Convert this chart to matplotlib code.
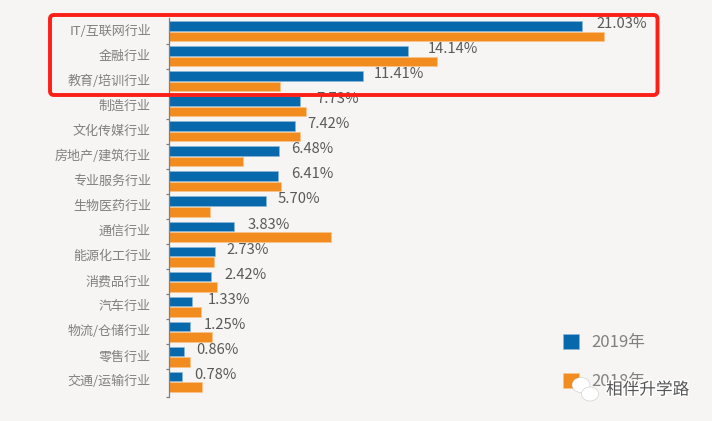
import matplotlib
matplotlib.use('Agg')
import matplotlib.pyplot as plt
import matplotlib.patheffects as pe
from matplotlib.patches import FancyBboxPatch, Ellipse
from matplotlib.transforms import Affine2D
import numpy as np

plt.rcParams['font.family'] = ['Noto Sans CJK SC', 'DejaVu Sans']

categories = ['IT/互联网行业', '金融行业', '教育/培训行业', '制造行业', '文化传媒行业',
              '房地产/建筑行业', '专业服务行业', '生物医药行业', '通信行业', '能源化工行业',
              '消费品行业', '汽车行业', '物流/仓储行业', '零售行业', '交通/运输行业']
labels_2019 = ['21.03%', '14.14%', '11.41%', '7.73%', '7.42%', '6.48%', '6.41%', '5.70%',
               '3.83%', '2.73%', '2.42%', '1.33%', '1.25%', '0.86%', '0.78%']
# bar lengths as drawn in the picture (they are not quite in scale with the labels)
bars_2019 = [21.03, 12.2, 9.87, 6.68, 6.43, 5.61, 5.56, 4.95, 3.32, 2.37, 2.12, 1.15, 1.07, 0.74, 0.66]
bars_2018 = [22.2, 13.67, 5.66, 6.99, 6.68, 3.78, 5.71, 2.09, 8.27, 2.30, 2.45, 1.63, 2.19, 1.07, 1.68]
label_x = [21.81, 13.19, 10.43, 7.53, 7.07, 6.2, 6.2, 5.54, 4.0, 2.93, 2.83, 1.96, 1.76, 1.40, 1.30]

bg = '#f6f5f3'
blue = '#0868ac'
orange = '#f28c1e'

fig = plt.figure(figsize=(7.12, 4.21), dpi=100, facecolor=bg)
ax = fig.add_axes([169/712, 1-397/421, 1-169/712, (397-18)/421])
ax.set_facecolor('none')

y = np.arange(len(categories))
ax.barh(y-0.21, bars_2019, height=0.38, color=blue, edgecolor='#8fb8d8', linewidth=0.4, label='2019年')
ax.barh(y+0.21, bars_2018, height=0.38, color=orange, edgecolor='#f9c48a', linewidth=0.4, label='2018年')

ax.set_xlim(0, 27.68)
ax.set_ylim(14.6, -0.52)

for xp, yp, s in zip(label_x, y, labels_2019):
    ax.text(xp, yp-0.28, s, fontsize=10.6, color='#595959', va='center', ha='left', clip_on=False)

for s in ['top', 'right', 'bottom']:
    ax.spines[s].set_visible(False)
ax.spines['left'].set_color('#7f7f7f')
ax.spines['left'].set_linewidth(0.9)
ax.xaxis.set_visible(False)
ax.set_yticks(list(y[:-1]+0.5) + [14.6])
ax.set_yticklabels([])
ax.set_yticks(y-0.06, labels=categories, minor=True)
ax.tick_params(axis='y', which='major', length=2.5, width=0.9, color='#7f7f7f')
ax.tick_params(axis='y', which='minor', length=0, pad=13, labelsize=9.4, labelcolor='#808080')

ax.legend(loc='upper left', bbox_to_anchor=(557.5/712, 1-329/421), bbox_transform=fig.transFigure,
          frameon=False, fontsize=12, labelcolor='#808080', handlelength=1.0, handleheight=1.0,
          labelspacing=1.3, handletextpad=0.75, borderpad=0.3, borderaxespad=0)

# everything below is placed in image pixels, y down
px = Affine2D().scale(1, -1).translate(0, 421)

fig.add_artist(FancyBboxPatch((50, 15), 607.5, 80, boxstyle='round,pad=0,rounding_size=4',
                              fill=False, edgecolor='#fb1f17', linewidth=2.8, transform=px, zorder=5))

# watermark
for cx, cy, w, h in [(581, 385, 18, 15), (590, 394, 17, 14)]:
    fig.add_artist(Ellipse((cx, cy), w, h, facecolor='white', edgecolor='#bbbbbb', linewidth=0.3,
                           transform=px, zorder=6))
fig.text(606/712, 1-390/421, '相伴升学路', fontsize=12, color='#555555', va='center', ha='left', zorder=7,
         path_effects=[pe.withStroke(linewidth=2, foreground='white')])

fig.savefig('out.png', dpi=100, facecolor=bg)
